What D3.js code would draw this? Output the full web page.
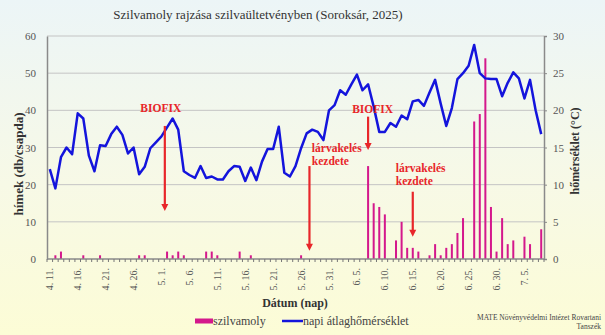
<!DOCTYPE html>
<html><head><meta charset="utf-8">
<script src="https://cdn.jsdelivr.net/npm/d3@7"></script>
<style>html,body{margin:0;padding:0;}svg{display:block;}</style>
</head><body>
<svg id="c" width="605" height="335"></svg>
<script>
const dates = ["4. 11.","4. 12.","4. 13.","4. 14.","4. 15.","4. 16.","4. 17.","4. 18.","4. 19.","4. 20.",
"4. 21.","4. 22.","4. 23.","4. 24.","4. 25.","4. 26.","4. 27.","4. 28.","4. 29.","4. 30.",
"5. 1.","5. 2.","5. 3.","5. 4.","5. 5.","5. 6.","5. 7.","5. 8.","5. 9.","5. 10.",
"5. 11.","5. 12.","5. 13.","5. 14.","5. 15.","5. 16.","5. 17.","5. 18.","5. 19.","5. 20.",
"5. 21.","5. 22.","5. 23.","5. 24.","5. 25.","5. 26.","5. 27.","5. 28.","5. 29.","5. 30.",
"5. 31.","6. 1.","6. 2.","6. 3.","6. 4.","6. 5.","6. 6.","6. 7.","6. 8.","6. 9.",
"6. 10.","6. 11.","6. 12.","6. 13.","6. 14.","6. 15.","6. 16.","6. 17.","6. 18.","6. 19.",
"6. 20.","6. 21.","6. 22.","6. 23.","6. 24.","6. 25.","6. 26.","6. 27.","6. 28.","6. 29.",
"6. 30.","7. 1.","7. 2.","7. 3.","7. 4.","7. 5.","7. 6.","7. 7.","7. 8."];

const moths = [0,1,2,0,0,0,1,0,0,1, 0,0,0,0,0,0,1,1,0,0, 0,2,1,2,1,0,0,0,2,2,
 1,0,0,0,2,0,1,0,0,0, 0,0,0,0,0,1,0,0,0,0, 0,0,0,0,0,0,0,25,15,14,
 12,0,5,10,3,3,2,0,1,4, 1,3,4,7,11,0,37,39,54,14, 2,11,4,5,0,6,4,0,8];

const temps = [12.1,9.5,13.7,15.0,14.1,19.6,18.9,13.9,11.8,15.3,
 15.2,16.8,17.8,16.7,14.2,15.0,11.4,12.4,14.9,15.7,
 16.5,17.7,18.9,17.4,11.8,11.3,10.9,12.5,10.9,11.1,
 10.7,10.7,11.8,12.5,12.4,10.5,12.3,10.6,13.1,14.8,
 14.8,17.8,11.6,11.1,12.5,14.9,16.9,17.4,17.1,16.0,
 20.0,20.7,22.7,22.1,23.5,24.8,22.7,23.5,20.5,17.1,
 17.1,18.3,17.8,19.3,18.8,21.2,21.4,20.6,22.4,24.1,
 20.9,17.9,20.3,24.2,25.0,26.0,28.8,25.0,24.3,24.2,
 24.2,21.9,23.7,25.1,24.3,21.6,24.1,20.0,16.8];

const countTicks = [0,10,20,30,40,50,60];
const tempTicks = [0,5,10,15,20,25,30];

// annotations: date, shift within day, text lines, text y (count units), arrow from/to (count units)
const annotations = [
  {date:"5. 1.", shift:0.6, lines:["BIOFIX"], textY:39.5, textDx:-4, anchor:"middle", from:35.8, to:12.9},
  {date:"6. 7.", shift:0.0, lines:["BIOFIX"], textY:39.3, textDx:4.5, anchor:"middle", from:38.3, to:29.3},
  {date:"5. 27.", shift:0.5, lines:["lárvakelés","kezdete"], textY:28.7, textDx:2.4, anchor:"start", from:25.0, to:2.2},
  {date:"6. 15.", shift:0.0, lines:["lárvakelés","kezdete"], textY:23.3, textDx:-17, anchor:"start", from:18.1, to:6.0}
];

const svg = d3.select("#c");
const W = 605, H = 335;
const L = 47, R = 544, T = 36, B = 259;
const serif = "'Liberation Serif','Times New Roman',serif";

const defs = svg.append("defs");
const grad = defs.append("linearGradient").attr("id","bg").attr("x1",0).attr("y1",0).attr("x2",0).attr("y2",1);
grad.append("stop").attr("offset","0%").attr("stop-color","#ecf5f7");
grad.append("stop").attr("offset","55%").attr("stop-color","#f7f9e6");
grad.append("stop").attr("offset","100%").attr("stop-color","#fcfcd6");
svg.append("rect").attr("width",W).attr("height",H).attr("fill","url(#bg)");

const x = d3.scaleBand().domain(dates).range([L,R]).paddingInner(0).paddingOuter(0);
const yC = d3.scaleLinear().domain([0,60]).range([B,T]);
const yT = d3.scaleLinear().domain([0,30]).range([B,T]);
const step = x.step();
const cx = d => x(d) + step/2;

// gridlines
svg.append("g").selectAll("line").data(countTicks.filter(v=>v>0)).join("line")
  .attr("x1",L).attr("x2",R).attr("y1",d=>yC(d)).attr("y2",d=>yC(d))
  .attr("stroke","#c4c4c4").attr("stroke-width",1);

// bars
svg.append("g").selectAll("rect").data(dates.map((d,i)=>({d,v:moths[i]})).filter(o=>o.v>0)).join("rect")
  .attr("x",o=>cx(o.d)-1).attr("width",2)
  .attr("y",o=>yC(o.v)).attr("height",o=>B-yC(o.v))
  .attr("fill","#d4188c");

// line
const line = d3.line().x((t,i)=>cx(dates[i])).y(t=>yT(t));
svg.append("path").attr("d",line(temps)).attr("fill","none")
  .attr("stroke","#1414dc").attr("stroke-width",2.5).attr("stroke-linejoin","round");

// left axis
const axL = d3.axisLeft(yC).tickValues(countTicks).tickSize(0).tickPadding(11);
const gL = svg.append("g").attr("transform",`translate(${L},0)`).call(axL);
gL.select(".domain").attr("stroke","#8a8a8a").attr("stroke-width",1.5);
gL.selectAll("text").attr("font-family",serif).attr("font-size",11).attr("fill","#555");

// right axis
const axR = d3.axisRight(yT).tickValues(tempTicks).tickSize(3).tickPadding(6);
const gR = svg.append("g").attr("transform",`translate(${R},0)`).call(axR);
gR.select(".domain").attr("stroke","#8a8a8a").attr("stroke-width",1.5);
gR.selectAll(".tick line").attr("stroke","#8a8a8a");
gR.selectAll("text").attr("font-family",serif).attr("font-size",11).attr("fill","#555");

// bottom axis
const gB = svg.append("g").attr("transform",`translate(0,${B})`);
gB.append("line").attr("x1",L).attr("x2",R).attr("stroke","#8a8a8a").attr("stroke-width",1.5);
gB.selectAll("line.mt").data(dates.concat([null])).join("line").attr("class","mt")
  .attr("x1",(d,i)=> d===null ? R : x(d)).attr("x2",(d,i)=> d===null ? R : x(d))
  .attr("y1",0).attr("y2",3).attr("stroke","#777").attr("stroke-width",1);
gB.selectAll("text").data(dates.filter((d,i)=>i%5===0)).join("text")
  .attr("transform",d=>`translate(${cx(d)},9) rotate(-90)`)
  .attr("text-anchor","end").attr("dy","0.35em")
  .attr("font-family",serif).attr("font-size",10).attr("fill","#555")
  .text(d=>d);

// titles
svg.append("text").attr("x",258).attr("y",19).attr("text-anchor","middle")
  .attr("font-family",serif).attr("font-size",13).attr("fill","#333")
  .text("Szilvamoly rajzása szilvaültetvényben (Soroksár, 2025)");
svg.append("text").attr("transform","translate(23,164) rotate(-90)").attr("text-anchor","middle")
  .attr("font-family",serif).attr("font-size",13).attr("font-weight","bold").attr("fill","#333")
  .text("hímek (db/csapda)");
svg.append("text").attr("transform","translate(579,151) rotate(-90)").attr("text-anchor","middle")
  .attr("font-family",serif).attr("font-size",12).attr("font-weight","bold").attr("fill","#333")
  .text("hőmérséklet (°C)");
svg.append("text").attr("x",295).attr("y",307).attr("text-anchor","middle")
  .attr("font-family",serif).attr("font-size",12).attr("font-weight","bold").attr("fill","#333")
  .text("Dátum (nap)");

// legend
const lg = svg.append("g");
lg.append("rect").attr("x",195).attr("y",318.5).attr("width",18).attr("height",5).attr("fill","#d4188c");
lg.append("text").attr("x",213).attr("y",325).attr("font-family",serif).attr("font-size",12).attr("fill","#444").text("szilvamoly");
lg.append("line").attr("x1",282).attr("x2",303).attr("y1",321).attr("y2",321).attr("stroke","#1414dc").attr("stroke-width",2.5);
lg.append("text").attr("x",303).attr("y",325).attr("font-family",serif).attr("font-size",12).attr("fill","#444").text("napi átlaghőmérséklet");

// credits
svg.append("text").attr("x",601).attr("y",320).attr("text-anchor","end")
  .attr("font-family",serif).attr("font-size",7.5).attr("fill","#444").text("MATE Növényvédelmi Intézet Rovartani");
svg.append("text").attr("x",601).attr("y",329).attr("text-anchor","end")
  .attr("font-family",serif).attr("font-size",7.5).attr("fill","#444").text("Tanszék");

// annotations
const red = "#e8262a";
const ag = svg.append("g");
annotations.forEach(a=>{
  const ax = x(a.date) + step*(0.5+a.shift);
  const t = ag.append("text").attr("font-family",serif).attr("font-size",11.5).attr("font-weight","bold")
    .attr("fill",red).attr("text-anchor",a.anchor);
  a.lines.forEach((ln,k)=>{
    t.append("tspan").attr("x",ax+a.textDx).attr("y",yC(a.textY)+k*13).text(ln);
  });
  const y1 = yC(a.from), y2 = yC(a.to);
  ag.append("line").attr("x1",ax).attr("x2",ax).attr("y1",y1).attr("y2",y2-6)
    .attr("stroke",red).attr("stroke-width",2.2);
  ag.append("path").attr("d",`M${ax-3.5},${y2-7} L${ax+3.5},${y2-7} L${ax},${y2} Z`).attr("fill",red);
});
</script>
</body></html>
